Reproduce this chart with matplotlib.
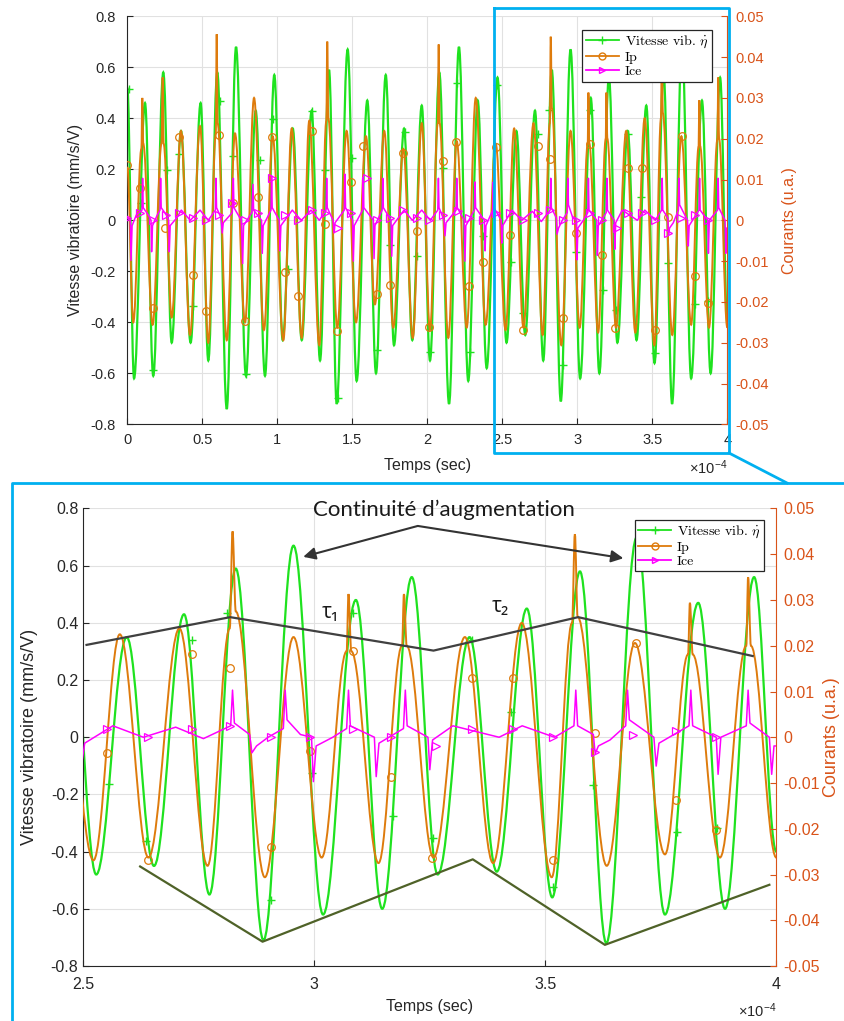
import numpy as np
import matplotlib
matplotlib.use("Agg")
import matplotlib.pyplot as plt
from matplotlib.path import Path
from matplotlib.patches import PathPatch
from matplotlib.lines import Line2D
from matplotlib.ticker import FuncFormatter

plt.rcParams['font.family'] = ['Liberation Sans', 'DejaVu Sans']
plt.rcParams['mathtext.fontset'] = 'cm'

# ---- data, time in units of 1e-4 s ----
# vitesse vibratoire (mm/s/V): successive peaks / troughs
t_vib = [0.000, 0.045, 0.118, 0.173, 0.240, 0.296, 0.358, 0.422, 0.489, 0.540,
         0.600, 0.663, 0.725, 0.791, 0.856, 0.918, 0.980, 1.036, 1.103, 1.163,
         1.229, 1.285, 1.345, 1.396, 1.469, 1.529, 1.600, 1.658, 1.723, 1.778,
         1.845, 1.900, 1.963, 2.018, 2.080, 2.145, 2.211, 2.273, 2.336, 2.396,
         2.468, 2.528, 2.594, 2.653, 2.718, 2.773, 2.830, 2.890, 2.955, 3.019,
         3.090, 3.147, 3.211, 3.267, 3.336, 3.395, 3.460, 3.515, 3.575, 3.632,
         3.698, 3.759, 3.831, 3.889, 3.952, 4.000]
vib = [0.52, -0.62, 0.46, -0.61, 0.58, -0.48, 0.35, -0.48, 0.46, -0.55,
       0.58, -0.74, 0.68, -0.61, 0.43, -0.61, 0.57, -0.47, 0.36, -0.47,
       0.43, -0.55, 0.59, -0.72, 0.67, -0.63, 0.47, -0.60, 0.57, -0.49,
       0.36, -0.47, 0.45, -0.55, 0.58, -0.72, 0.68, -0.63, 0.47, -0.58,
       0.56, -0.48, 0.35, -0.45, 0.43, -0.55, 0.59, -0.71, 0.67, -0.62,
       0.48, -0.60, 0.56, -0.48, 0.35, -0.47, 0.45, -0.56, 0.58, -0.72,
       0.70, -0.62, 0.47, -0.60, 0.56, -0.40]

# Ip (courant, x1e-3 u.a.): (t, value)
ip_pts = [(0.000, 13.1), (0.040, -25.0), (0.094, 17.5), (0.100, 30.0), (0.106, 18.8),
          (0.169, -25.6), (0.228, 18.8), (0.236, 35.0), (0.242, 18.8), (0.296, -23.8),
          (0.358, 21.9), (0.418, -28.1), (0.485, 23.1), (0.540, -30.0), (0.590, 21.3),
          (0.596, 45.6), (0.602, 23.8), (0.663, -29.4), (0.718, 21.3), (0.785, -25.0),
          (0.845, 30.0), (0.911, -26.9), (0.969, 20.6), (1.040, -29.4), (1.096, 22.5),
          (1.163, -28.8), (1.213, 24.4), (1.280, -30.6), (1.327, 24.4), (1.333, 43.8),
          (1.340, 25.0), (1.400, -26.3), (1.462, 21.9), (1.525, -25.0), (1.591, 20.6),
          (1.651, -20.6), (1.713, 21.9), (1.773, -26.3), (1.840, 17.5), (1.903, -28.8),
          (1.963, 23.8), (2.018, -26.9), (2.070, 23.8), (2.076, 43.1), (2.082, 23.8),
          (2.140, -28.8), (2.196, 19.4), (2.263, -26.3), (2.323, 30.0), (2.389, -25.6),
          (2.456, 18.8), (2.522, -26.9), (2.579, 22.5), (2.641, -26.3), (2.708, 23.8),
          (2.769, -28.1), (2.817, 23.8), (2.823, 45.0), (2.830, 27.5), (2.893, -30.6),
          (2.955, 21.9), (3.016, -26.3), (3.070, 18.8), (3.074, 31.3), (3.080, 18.8),
          (3.139, -27.5), (3.190, 20.0), (3.194, 31.3), (3.200, 20.0), (3.258, -26.3),
          (3.326, 21.9), (3.387, -27.5), (3.449, 25.0), (3.514, -30.6), (3.558, 25.0),
          (3.564, 44.4), (3.570, 26.3), (3.633, -28.1), (3.694, 20.6), (3.759, -25.6),
          (3.809, 18.1), (3.813, 29.4), (3.819, 18.1), (3.878, -26.3), (3.935, 20.0),
          (3.939, 35.0), (3.945, 20.0), (4.000, -26.3)]

# Ice (courant, x1e-3 u.a.): (t, value)
ice_pts = [(0.000, 0.6), (0.020, 0.0), (0.025, -9.8), (0.032, -1.3), (0.060, 1.3),
           (0.098, 2.5), (0.102, 10.3), (0.106, 3.1), (0.140, 1.3), (0.158, 0.0),
           (0.162, -7.7), (0.168, -1.3), (0.200, 1.3), (0.218, 2.5), (0.222, 10.3),
           (0.226, 3.1), (0.260, 1.3), (0.276, 0.0), (0.280, -7.7), (0.286, -1.3),
           (0.330, 0.6), (0.360, 2.5), (0.420, 0.0), (0.485, 2.5), (0.540, 0.0),
           (0.587, 2.5), (0.591, 10.3), (0.595, 3.1), (0.625, 0.6), (0.633, -3.1),
           (0.640, -0.6), (0.700, 1.9), (0.707, 10.3), (0.711, 3.1), (0.760, 0.0),
           (0.769, -10.6), (0.775, -1.3), (0.830, 1.9), (0.838, 8.8), (0.842, 2.5),
           (0.895, 0.0), (0.900, -8.1), (0.906, -1.3), (0.958, 2.5), (0.962, 10.9),
           (0.966, 3.1), (1.013, 0.0), (1.018, -7.5), (1.024, -1.3), (1.100, 2.5),
           (1.160, 0.0), (1.225, 2.5), (1.280, 0.0), (1.325, 2.5), (1.329, 10.3),
           (1.333, 3.1), (1.372, 0.0), (1.378, -3.1), (1.385, -0.6), (1.447, 2.5),
           (1.451, 11.3), (1.455, 3.1), (1.502, 0.0), (1.507, -10.0), (1.513, -1.3),
           (1.569, 2.5), (1.573, 10.6), (1.577, 3.1), (1.640, 0.0), (1.645, -9.4),
           (1.651, -1.3), (1.699, 2.5), (1.703, 10.3), (1.707, 3.1), (1.758, 0.0),
           (1.763, -8.8), (1.769, -1.3), (1.845, 2.5), (1.900, 0.0), (1.963, 2.5),
           (2.020, 0.0), (2.070, 2.5), (2.074, 10.3), (2.078, 3.1), (2.112, 0.0),
           (2.118, -3.8), (2.125, -0.6), (2.192, 2.5), (2.196, 10.3), (2.200, 3.1),
           (2.246, 0.0), (2.251, -10.0), (2.257, -1.3), (2.314, 2.5), (2.318, 9.4),
           (2.322, 3.1), (2.380, 0.0), (2.385, -7.5), (2.391, -1.3), (2.436, 2.5),
           (2.440, 9.4), (2.444, 3.1), (2.493, 0.0), (2.497, -5.6), (2.503, -1.3),
           (2.564, 2.5), (2.630, 0.0), (2.700, 2.2), (2.760, -0.3), (2.819, 2.5),
           (2.823, 10.3), (2.827, 3.1), (2.860, 0.6), (2.865, -3.4), (2.875, -1.9),
           (2.900, 0.0), (2.933, 1.9), (2.937, 10.3), (2.941, 3.8), (2.970, 0.6),
           (2.994, 0.0), (2.998, -9.7), (3.004, -1.9), (3.040, 0.0), (3.070, 1.9),
           (3.074, 10.3), (3.078, 2.5), (3.130, 0.0), (3.134, -8.6), (3.140, -1.3),
           (3.193, 1.9), (3.197, 10.3), (3.201, 2.5), (3.246, 0.0), (3.250, -7.1),
           (3.256, -0.6), (3.300, 2.5), (3.400, 0.0), (3.450, 2.5), (3.520, 0.0),
           (3.562, 2.5), (3.566, 10.3), (3.570, 2.5), (3.604, 0.6), (3.608, -3.6),
           (3.615, -1.9), (3.640, -0.6), (3.674, 2.5), (3.678, 10.3), (3.682, 3.8),
           (3.735, 0.0), (3.740, -6.3), (3.746, -1.3), (3.811, 2.5), (3.815, 10.3),
           (3.819, 2.5), (3.870, 0.0), (3.874, -8.1), (3.880, 0.0), (3.935, 2.5),
           (3.939, 10.3), (3.943, 3.1), (3.985, 0.0), (3.990, -8.1), (3.995, -1.9),
           (4.000, -1.9)]

# marker samples
vib_mk = [(0.013, 0.515), (0.089, 0.069), (0.173, -0.587), (0.263, 0.197), (0.347, 0.26),
          (0.440, -0.336), (0.618, 0.469), (0.707, 0.252), (0.791, -0.603), (0.885, 0.236),
          (0.969, 0.396), (1.070, -0.19), (1.229, 0.43), (1.318, 0.197), (1.407, -0.698),
          (1.496, 0.243), (1.667, -0.509), (1.751, -0.097), (1.851, 0.348), (1.933, -0.14),
          (2.018, -0.515), (2.107, 0.204), (2.196, 0.54), (2.285, -0.515), (2.373, -0.062),
          (2.463, 0.531), (2.556, -0.163), (2.636, -0.362), (2.735, 0.34), (2.810, 0.434),
          (2.906, -0.569), (2.994, -0.124), (3.084, 0.434), (3.171, -0.275), (3.256, -0.353),
          (3.341, 0.34), (3.426, 0.09), (3.517, -0.522), (3.604, -0.167), (3.784, -0.33),
          (3.871, -0.318)]
ip_mk = [(0.000, 13.6), (0.085, 7.8), (0.173, -21.6), (0.251, -1.9), (0.347, 20.5),
         (0.436, -13.4), (0.525, -22.3), (0.613, 20.9), (0.703, 4.2), (0.785, -24.7),
         (0.873, 5.8), (0.963, 20.5), (1.051, -12.6), (1.140, -18.6), (1.229, 21.8),
         (1.318, -1.0), (1.396, -27.1), (1.489, 9.3), (1.573, 18.2), (1.667, -18.1),
         (1.751, -15.9), (1.840, 16.6), (1.929, -2.6), (2.013, -26.1), (2.107, 14.6),
         (2.191, 19.3), (2.280, -16.1), (2.369, -10.1), (2.458, 17.9), (2.551, -3.5),
         (2.641, -26.9), (2.735, 18.2), (2.818, 15.1), (2.906, -23.9), (2.991, -3.1),
         (3.084, 18.8), (3.167, -8.6), (3.254, -26.4), (3.341, 12.9), (3.431, 12.9),
         (3.517, -26.8), (3.608, 0.9), (3.696, 20.6), (3.783, -13.7), (3.869, -20.3)]
ice_mk = [(0.000, 0.6), (0.088, 1.9), (0.173, 0.0), (0.260, 1.3), (0.347, 1.9),
          (0.436, 0.6), (0.525, 0.0), (0.613, 1.3), (0.696, 4.2), (0.785, 0.0),
          (0.873, 1.9), (0.963, 10.3), (1.051, 1.3), (1.140, 0.0), (1.229, 2.5),
          (1.318, 1.9), (1.407, -1.9), (1.489, 1.9), (1.596, 10.3), (1.667, 0.0),
          (1.751, 0.6), (1.840, 2.5), (1.929, 0.6), (2.013, 0.0), (2.107, 1.3),
          (2.207, 2.4), (2.280, 0.6), (2.369, 0.0), (2.458, 1.9), (2.551, 1.9),
          (2.641, 0.0), (2.735, 1.9), (2.818, 2.5), (2.906, 0.0), (2.991, 0.0),
          (3.084, 1.9), (3.167, 0.0), (3.263, -1.9), (3.341, 1.9), (3.431, 1.9),
          (3.517, 0.0), (3.607, -3.2), (3.690, 0.5), (3.783, 1.3), (3.869, 0.0)]

# annotations of the zoomed panel (left axis units)
env_top_t = [2.507, 2.818, 3.258, 3.571, 3.949]
env_top_v = [0.323, 0.420, 0.303, 0.420, 0.284]
env_bot_t = [2.623, 2.888, 3.343, 3.629, 3.985]
env_bot_v = [-0.452, -0.715, -0.427, -0.726, -0.516]

GREEN = '#1FE21F'
ORANGE = '#DE7B0C'
MAGENTA = '#FF00FF'
AXRED = '#D95319'
DARK = '#262626'
BLUE = '#00B0F0'

W, H = 845, 1021


def smooth(t, v, a=0.364):
    # cubic pieces with flat tangents at each peak / trough
    verts = [(t[0], v[0])]
    codes = [Path.MOVETO]
    for i in range(1, len(t)):
        dt = t[i] - t[i - 1]
        verts += [(t[i - 1] + a * dt, v[i - 1]), (t[i] - a * dt, v[i]), (t[i], v[i])]
        codes += [Path.CURVE4] * 3
    return Path(verts, codes)


t_ip = [p[0] for p in ip_pts]
ip = [p[1] * 1e-3 for p in ip_pts]
t_ice = [p[0] for p in ice_pts]
ice = [p[1] * 1e-3 for p in ice_pts]

fmt = FuncFormatter(lambda v, p: '%g' % v)


def panel(rect, xlim, xticks, leg_anchor, tsize, lsize, xpad, lpad, rpad,
          xlab_pad, ylab_pad, rlab_pad, off_y):
    ax = fig.add_axes(rect)
    axr = ax.twinx()

    ax.add_patch(PathPatch(smooth(t_vib, vib), fc='none', ec=GREEN, lw=1.6))
    ax.plot([p[0] for p in vib_mk], [p[1] for p in vib_mk], ls='none',
            marker='+', ms=6, mew=1.0, color=GREEN)

    axr.add_patch(PathPatch(smooth(t_ip, ip), fc='none', ec=ORANGE, lw=1.4))
    axr.plot([p[0] for p in ip_mk], [p[1] * 1e-3 for p in ip_mk], ls='none',
             marker='o', ms=5.5, mew=0.9, mfc='none', color=ORANGE)
    axr.plot(t_ice, ice, color=MAGENTA, lw=1.1)
    axr.plot([p[0] for p in ice_mk], [p[1] * 1e-3 for p in ice_mk], ls='none',
             marker='>', ms=5.5, mew=0.9, mfc='none', color=MAGENTA)

    ax.set_xlim(*xlim)
    ax.set_ylim(-0.8, 0.8)
    axr.set_ylim(-0.05, 0.05)
    ax.set_xticks(xticks)
    ax.set_yticks([-0.8, -0.6, -0.4, -0.2, 0, 0.2, 0.4, 0.6, 0.8])
    axr.set_yticks([-0.05, -0.04, -0.03, -0.02, -0.01, 0, 0.01, 0.02, 0.03, 0.04, 0.05])
    ax.xaxis.set_major_formatter(fmt)
    ax.yaxis.set_major_formatter(fmt)
    axr.yaxis.set_major_formatter(fmt)

    ax.grid(True, color='#E1E1E1', lw=0.8)
    ax.set_axisbelow(True)
    for s in ['top', 'right']:
        ax.spines[s].set_visible(False)
    for s in ['top', 'left', 'bottom']:
        axr.spines[s].set_visible(False)
    ax.spines['left'].set_color(DARK)
    ax.spines['bottom'].set_color(DARK)
    axr.spines['right'].set_color(AXRED)
    ax.tick_params(direction='in', length=4, color=DARK, labelcolor=DARK, labelsize=tsize)
    ax.tick_params(axis='x', pad=xpad)
    ax.tick_params(axis='y', pad=lpad)
    axr.tick_params(direction='in', length=4, color=AXRED, labelcolor=AXRED,
                    labelsize=tsize, pad=rpad)

    ax.set_xlabel('Temps (sec)', fontsize=11.5, color=DARK, labelpad=xlab_pad)
    ax.set_ylabel('Vitesse vibratoire (mm/s/V)', fontsize=lsize, color=DARK,
                  labelpad=ylab_pad)
    axr.set_ylabel('Courants (u.a.)', fontsize=lsize, color=AXRED, labelpad=rlab_pad)
    ax.text(1.0, off_y, r'×10$^{\mathregular{-4}}$', transform=ax.transAxes,
            ha='right', va='center', fontsize=10.5, color=DARK)

    handles = [Line2D([], [], color=GREEN, lw=1.3, marker='+', ms=6, mew=1.0),
               Line2D([], [], color=ORANGE, lw=1.3, marker='o', ms=5, mfc='none'),
               Line2D([], [], color=MAGENTA, lw=1.3, marker='>', ms=5, mfc='none')]
    leg = axr.legend(handles, [r'Vitesse vib. $\dot{\eta}$', 'Ip', 'Ice'],
                     loc='upper right', bbox_to_anchor=leg_anchor, borderaxespad=0,
                     fancybox=False, framealpha=1, edgecolor=DARK,
                     prop={'family': 'cmr10', 'size': 10},
                     handlelength=2.4, borderpad=0.25, labelspacing=0.1,
                     handletextpad=0.4)
    leg.get_frame().set_linewidth(0.9)
    return ax, axr


fig = plt.figure(figsize=(W / 100, H / 100), dpi=100)

ax1, ax1r = panel([127.3 / W, 1 - 424.3 / H, 600 / W, 408 / H], (0, 4),
                  [0, 0.5, 1, 1.5, 2, 2.5, 3, 3.5, 4], (0.9745, 0.9664),
                  tsize=10.5, lsize=11.5, xpad=6.5, lpad=8.5, rpad=5.5,
                  xlab_pad=8, ylab_pad=5, rlab_pad=10, off_y=-0.107)
ax2, ax2r = panel([83.3 / W, 1 - 966 / H, 693 / W, 457.5 / H], (2.5, 4),
                  [2.5, 3, 3.5, 4], (0.9827, 0.9749),
                  tsize=11.5, lsize=13, xpad=8, lpad=3.5, rpad=5,
                  xlab_pad=5, ylab_pad=9, rlab_pad=2, off_y=-0.098)

# annotations on the zoomed panel
ax2r.plot(env_top_t, env_top_v, transform=ax2.transData, color='#404040', lw=1.6, zorder=5)
ax2r.plot(env_bot_t, env_bot_v, transform=ax2.transData, color='#4F6228', lw=1.6, zorder=5)
for tip in [(2.976, 0.631), (3.669, 0.626)]:
    ax2r.annotate('', xy=tip, xytext=(3.224, 0.739), xycoords=ax2.transData,
                  textcoords=ax2.transData,
                  arrowprops=dict(arrowstyle='-|>', color='#333333', lw=1.5,
                                  mutation_scale=18, shrinkA=0, shrinkB=0))
ax2r.text(3.281, 0.795, 'Continuité d’augmentation', transform=ax2.transData,
          ha='center', va='center', fontsize=16, family=['Lato', 'DejaVu Sans'],
          color='#1A1A1A', clip_on=False)
ax2r.text(3.034, 0.435, 'τ₁', transform=ax2.transData, ha='center', va='center',
          fontsize=15, family=['Open Sans', 'DejaVu Sans'], color='#1A1A1A')
ax2r.text(3.402, 0.456, 'τ₂', transform=ax2.transData, ha='center', va='center',
          fontsize=15, family=['Open Sans', 'DejaVu Sans'], color='#1A1A1A')

# blue zoom frame
def fig_line(xs, ys):
    fig.add_artist(Line2D([x / W for x in xs], [1 - y / H for y in ys],
                          transform=fig.transFigure, color=BLUE, lw=2.0))

fig_line([494, 729, 729, 494, 494], [8, 8, 453, 453, 8])
fig_line([729, 787], [453, 483])
fig_line([12, 12, 845], [1021, 483, 483])

fig.savefig('out.png', dpi=100)
